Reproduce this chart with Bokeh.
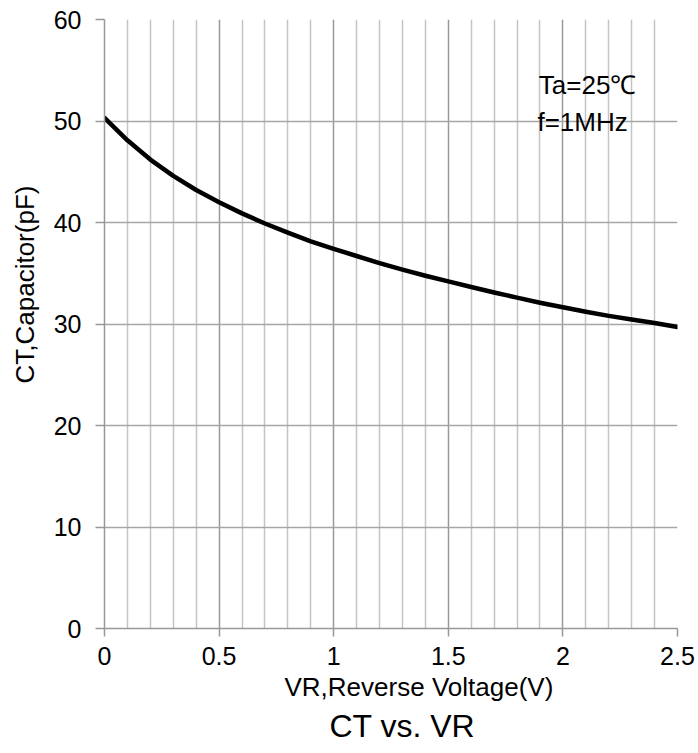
from bokeh.plotting import figure
from bokeh.models import Range1d, FixedTicker, Label, Title
from bokeh.embed import file_html
from bokeh.resources import INLINE

# ---- data ----
vr = [0.0, 0.1, 0.2, 0.3, 0.4, 0.5, 0.6, 0.7, 0.8, 0.9, 1.0, 1.1, 1.2,
      1.3, 1.4, 1.5, 1.6, 1.7, 1.8, 1.9, 2.0, 2.1, 2.2, 2.3, 2.4, 2.5]
ct = [50.3, 48.1, 46.2, 44.6, 43.2, 42.0, 40.9, 39.9, 39.0, 38.15, 37.4, 36.7, 36.0,
      35.35, 34.75, 34.2, 33.65, 33.1, 32.6, 32.1, 31.65, 31.2, 30.8, 30.45, 30.1, 29.7]

x_ticks = [0, 0.5, 1, 1.5, 2, 2.5]
x_tick_labels = ["0", "0.5", "1", "1.5", "2", "2.5"]
x_minor = [0.1, 0.2, 0.3, 0.4, 0.6, 0.7, 0.8, 0.9, 1.1, 1.2, 1.3, 1.4,
           1.6, 1.7, 1.8, 1.9, 2.1, 2.2, 2.3, 2.4]
y_ticks = [0, 10, 20, 30, 40, 50, 60]
y_tick_labels = ["0", "10", "20", "30", "40", "50", "60"]

title_text = "CT vs. VR"
x_label = "VR,Reverse Voltage(V)"
y_label = "CT,Capacitor(pF)"
notes = ["Ta=25℃", "f=1MHz"]

FONT = "Liberation Sans"

p = figure(width=698, height=753, x_range=Range1d(0, 2.5), y_range=Range1d(0, 60),
           output_backend="svg", toolbar_location=None, title=None,
           min_border_left=102, min_border_right=21, min_border_top=19, min_border_bottom=125)
p.outline_line_color = None
p.background_fill_color = "white"
p.border_fill_color = "white"

# axes
p.xaxis.ticker = FixedTicker(ticks=x_ticks, minor_ticks=x_minor)
p.yaxis.ticker = FixedTicker(ticks=y_ticks)
p.xaxis.major_label_overrides = {t: s for t, s in zip(x_ticks, x_tick_labels)}
p.yaxis.major_label_overrides = {t: s for t, s in zip(y_ticks, y_tick_labels)}
for ax in (p.xaxis, p.yaxis):
    ax.axis_line_color = "#999999"
    ax.axis_line_width = 1.5
    ax.major_tick_line_color = "#999999"
    ax.major_tick_line_width = 1.5
    ax.major_tick_in = 0
    ax.minor_tick_line_color = None
    ax.major_label_text_font = FONT
    ax.major_label_text_font_size = "25px"
    ax.major_label_text_color = "black"
p.xaxis.major_tick_out = 8
p.yaxis.major_tick_out = 9
p.xaxis.major_label_standoff = 10
p.yaxis.major_label_standoff = 14

# grids
p.xgrid.grid_line_color = "#999999"
p.xgrid.grid_line_width = 1.5
p.xgrid.minor_grid_line_color = "#c4c4c4"
p.xgrid.minor_grid_line_width = 1.5
p.ygrid.grid_line_color = "#a6a6a6"
p.ygrid.grid_line_width = 1.5

# curve
p.line(vr, ct, line_color="black", line_width=4.5, line_join="round", line_cap="round")

# notes inside the plot
p.add_layout(Label(x=1.895, y=53.5, text=notes[0], text_font=FONT, text_font_size="26px",
                   text_color="black", text_baseline="alphabetic"))
p.add_layout(Label(x=1.889, y=49.9, text=notes[1], text_font=FONT, text_font_size="26px",
                   text_color="black", text_baseline="alphabetic"))

# axis labels and caption as titles (offset like the reference)
p.add_layout(Title(text=x_label, align="left", offset=180, vertical_align="top", standoff=8,
                   text_font=FONT, text_font_size="26px", text_font_style="normal",
                   text_color="black"), "below")
p.add_layout(Title(text=title_text, align="left", offset=225, vertical_align="top", standoff=0,
                   text_font=FONT, text_font_size="32px", text_font_style="normal",
                   text_color="black"), "below")
p.add_layout(Title(text=y_label, align="left", offset=245, vertical_align="top", standoff=18,
                   text_font=FONT, text_font_size="26px", text_font_style="normal",
                   text_color="black"), "left")

open("out.html", "w").write(file_html(p, INLINE))
